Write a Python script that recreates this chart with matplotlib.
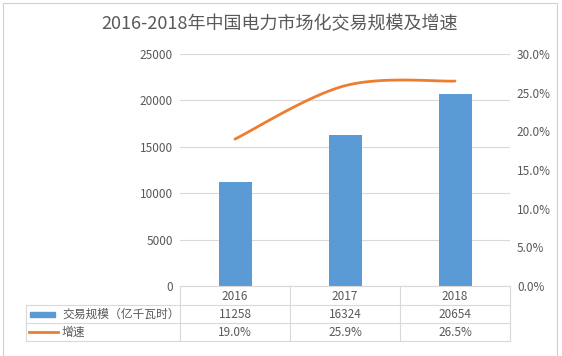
import numpy as np
import matplotlib.pyplot as plt
from matplotlib.patches import Rectangle
from matplotlib.lines import Line2D
from matplotlib.ticker import FuncFormatter

plt.rcParams['font.family'] = ['Noto Sans CJK SC', 'DejaVu Sans']

title = '2016-2018年中国电力市场化交易规模及增速'
years = ['2016', '2017', '2018']
volume = [11258, 16324, 20654]          # 亿千瓦时
growth = [19.0, 25.9, 26.5]             # %
bar_label = '交易规模（亿千瓦时）'
line_label = '增速'

blue = '#5B9BD5'
orange = '#ED7D31'
grey = '#595959'
gridc = '#D9D9D9'

W, H = 562, 356
fig = plt.figure(figsize=(W / 100, H / 100), dpi=100)

def fx(px):
    return px / W

def fy(py):
    return 1 - py / H

# outer border
fig.add_artist(Rectangle((fx(3), fy(360)), fx(554), 357 / H, transform=fig.transFigure,
                         fill=False, edgecolor='#D0D0D0', lw=0.8))

left, right, top, bottom = 180, 510, 54, 286
ax = fig.add_axes([fx(left), fy(bottom), fx(right - left), (bottom - top) / H])
x = np.arange(len(years))
ax.bar(x, volume, width=0.3, color=blue, zorder=3)
ax.set_xlim(-0.5, 2.5)
ax.set_ylim(0, 25000)
ax.set_yticks(np.arange(0, 25001, 5000))
ax.yaxis.grid(True, color=gridc, lw=0.8)
ax.set_axisbelow(True)
for s in ax.spines.values():
    s.set_visible(False)
ax.tick_params(axis='y', length=0, labelsize=8.5, labelcolor=grey, pad=5)
ax.set_xticks([])

ax2 = ax.twinx()
# smooth line (Excel-like bezier smoothing)
pts = np.column_stack([x, growth]).astype(float)
curve = []
for i in range(len(pts) - 1):
    p0 = pts[max(i - 1, 0)]
    p1 = pts[i]
    p2 = pts[i + 1]
    p3 = pts[min(i + 2, len(pts) - 1)]
    c1 = p1 + (p2 - p0) / 6
    c2 = p2 - (p3 - p1) / 6
    t = np.linspace(0, 1, 40)[:, None]
    seg = (1 - t) ** 3 * p1 + 3 * (1 - t) ** 2 * t * c1 + 3 * (1 - t) * t ** 2 * c2 + t ** 3 * p2
    curve.append(seg)
curve = np.vstack(curve)
ax2.plot(curve[:, 0], curve[:, 1], color=orange, lw=2, solid_capstyle='round', zorder=4)
ax2.set_ylim(0, 30)
ax2.set_yticks(np.arange(0, 30.1, 5))
ax2.yaxis.set_major_formatter(FuncFormatter(lambda v, p: f'{v:.1f}%'))
for s in ax2.spines.values():
    s.set_visible(False)
ax2.tick_params(axis='y', length=0, labelsize=8.5, labelcolor=grey, pad=5)

# title
fig.text(fx(280), fy(24), title, ha='center', va='center', fontsize=13, color=grey)

# data table
cols = [180, 290, 400, 510]
rows = [286, 305, 323, 341]
tl = 26
def hline(x0, x1, y):
    fig.add_artist(Line2D([fx(x0), fx(x1)], [fy(y), fy(y)], color=gridc, lw=0.8))
def vline(xp, y0, y1):
    fig.add_artist(Line2D([fx(xp), fx(xp)], [fy(y0), fy(y1)], color=gridc, lw=0.8))

hline(left, right, 286)
for r in rows[1:]:
    hline(tl, right, r)
vline(tl, rows[1], rows[-1])
for c in cols:
    vline(c, rows[0], rows[-1])

for j, yr in enumerate(years):
    cx = (cols[j] + cols[j + 1]) / 2
    fig.text(fx(cx), fy(296), yr, ha='center', va='center', fontsize=8.5, color=grey)
    fig.text(fx(cx), fy(314), str(volume[j]), ha='center', va='center', fontsize=8.5, color=grey)
    fig.text(fx(cx), fy(332), f'{growth[j]:.1f}%', ha='center', va='center', fontsize=8.5, color=grey)

fig.add_artist(Rectangle((fx(30), fy(317)), fx(25), 5 / H, transform=fig.transFigure,
                         color=blue))
fig.add_artist(Line2D([fx(29), fx(58)], [fy(332), fy(332)], color=orange, lw=2))
fig.text(fx(62), fy(314), bar_label, ha='left', va='center', fontsize=8.5, color=grey)
fig.text(fx(62), fy(332), line_label, ha='left', va='center', fontsize=8.5, color=grey)

fig.savefig('out.png', dpi=100)
